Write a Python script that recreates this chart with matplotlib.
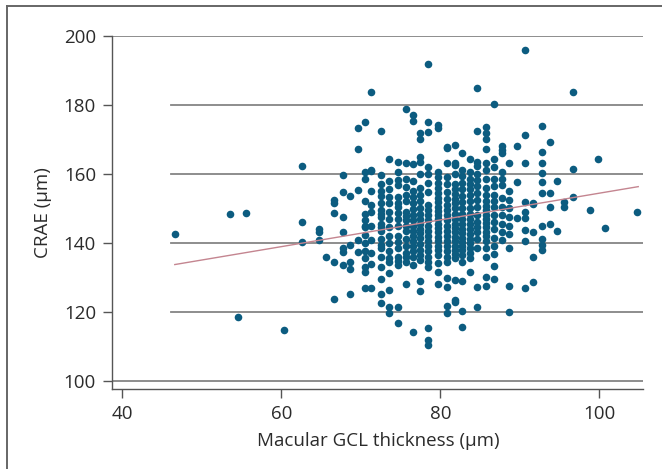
import matplotlib.pyplot as plt
import numpy as np

# macular GCL thickness (x, um) and the CRAE values (um) read at each x column
gcl_cols = [46.6, 53.6, 55.5, 54.6, 60.4, 62.6, 64.7, 65.6, 66.6, 67.7,
            68.6, 69.6, 70.5, 71.3, 72.5, 73.6, 74.7, 75.7, 76.6, 77.5,
            78.5, 79.7, 80.8, 81.8, 82.7, 83.7, 84.6, 85.7, 86.7, 87.7,
            88.7, 89.7, 90.7, 91.7, 92.8, 93.8, 94.7, 95.6, 96.7, 98.8,
            99.9, 100.7, 104.8]
crae_cols = [
    [142.5],
    [148.4],
    [148.6],
    [118.5],
    [114.8],
    [162.3, 146.0, 140.2],
    [140.8, 143.1, 143.9],
    [136.0],
    [152.4, 151.5, 148.6, 134.5, 123.7],
    [159.8, 154.8, 147.4, 143.2, 138.4, 137.4, 133.6],
    [153.7, 139.4, 134.5, 132.4, 125.2],
    [173.2, 167.2, 155.2, 137.4, 140.8],
    [175.1, 160.5, 158.4, 148.4, 145.0, 146.7, 144.7, 142.3, 139.9, 133.1, 131.6, 126.8,
     152.0, 137.5, 135.5],
    [183.7, 160.8, 148.9, 140.8, 126.8, 161.1, 155.0, 151.0, 145.0, 137.0, 134.0],
    [172.4, 159.7, 155.0, 153.5, 151.5, 149.5, 147.5, 145.5, 143.5, 141.0, 138.5,
     136.0, 133.0, 129.4, 125.2, 122.5, 157.0, 148.5, 144.5, 139.5],
    [164.3, 153.4, 151.5, 147.0, 144.5, 140.0, 137.5, 134.5, 131.2, 126.3, 121.5, 119.7,
     158.0, 155.5, 149.0, 142.0, 135.5],
    [163.4, 158.2, 156.8, 153.4, 150.5, 148.6, 145.0, 142.0, 138.5, 136.0, 133.5,
     121.5, 116.7, 160.5, 151.5, 146.8, 140.2, 134.8],
    [178.7, 163.1, 156.3, 152.0, 149.0, 146.5, 143.5, 141.0, 137.0, 134.5, 128.1,
     158.5, 154.0, 147.7, 144.8, 139.0, 135.8],
    [177.1, 175.3, 162.8, 155.0, 151.5, 148.0, 145.0, 142.0, 139.0, 136.0, 133.5, 114.0,
     158.0, 153.3, 149.8, 146.5, 143.5, 140.5, 137.5],
    [171.9, 170.1, 165.0, 163.5, 154.0, 150.0, 147.0, 144.0, 141.5, 138.0, 135.0,
     128.9, 126.1, 160.0, 156.0, 152.0, 148.5, 145.5, 142.8, 139.8, 136.5],
    [191.9, 175.0, 172.2, 162.1, 157.3, 154.8, 151.0, 148.0, 145.0, 142.0, 139.0,
     136.0, 133.0, 115.2, 111.8, 110.4, 160.0, 149.5, 146.5, 143.5, 140.5, 137.5, 134.5],
    [174.2, 173.2, 160.6, 159.2, 156.0, 153.0, 150.5, 148.0, 145.5, 143.0, 140.5,
     138.0, 134.1, 131.6, 128.0, 157.5, 154.5, 151.8, 149.3, 146.8, 144.2, 141.8,
     139.2, 136.5],
    [167.9, 167.4, 163.1, 159.2, 154.8, 151.0, 148.0, 145.0, 142.0, 139.0, 136.0,
     129.7, 127.1, 121.8, 119.7, 157.0, 152.8, 149.5, 146.5, 143.5, 140.5, 137.5, 134.5],
    [168.4, 163.1, 162.6, 160.0, 157.0, 154.3, 151.5, 148.5, 145.5, 143.0, 140.5,
     138.0, 135.5, 129.2, 123.4, 122.9, 155.7, 152.8, 150.0, 147.0, 144.2, 141.8,
     139.2, 136.8],
    [166.0, 159.5, 157.5, 153.5, 150.0, 147.0, 144.0, 141.5, 139.0, 136.5, 128.9,
     120.2, 115.7, 161.0, 155.5, 151.8, 148.5, 145.5, 142.8, 140.2, 137.8, 134.5],
    [164.3, 158.5, 155.5, 152.0, 148.5, 145.5, 142.5, 140.0, 137.0, 131.6, 160.5,
     157.0, 153.8, 150.2, 147.0, 144.0, 141.2, 138.5, 135.5],
    [184.8, 172.4, 163.5, 162.3, 160.0, 156.5, 150.5, 146.0, 143.0, 127.1, 121.3,
     158.2, 154.5, 152.5, 148.2, 144.5, 141.0, 138.5],
    [173.5, 171.8, 170.1, 167.1, 163.1, 158.5, 156.0, 152.0, 149.5, 147.0, 144.5,
     142.0, 140.5, 130.2, 127.5, 161.0, 154.0, 150.8, 148.2, 145.8, 143.2, 138.5, 136.0],
    [180.2, 164.3, 162.1, 156.5, 154.0, 150.5, 146.0, 136.7, 133.3, 129.4, 158.5,
     152.2, 148.0, 144.0, 141.5, 139.0],
    [168.2, 166.9, 166.0, 158.5, 156.8, 153.0, 148.0, 140.8, 160.5, 150.5, 145.5, 143.0],
    [163.1, 150.0, 145.0, 138.6, 127.5, 119.8, 155.0, 152.5, 147.5, 142.5],
    [168.1, 157.7, 147.1],
    [195.9, 171.3, 163.1, 151.9, 149.0, 147.1, 143.7, 140.6, 126.8],
    [151.3, 151.5, 143.1, 136.0, 128.7],
    [173.9, 166.4, 163.1, 160.2, 157.7, 154.5, 144.9, 141.0, 139.4, 137.9],
    [169.3, 154.5, 150.5, 145.4],
    [158.0, 143.5],
    [151.9, 150.5],
    [183.8, 161.4, 153.4],
    [149.5],
    [164.2],
    [144.2],
    [149.0],
]

# regression line end points
fit_x = [46.6, 104.9]
fit_y = [133.7, 156.3]

x_ticks = [40, 60, 80, 100]
y_ticks = [100, 120, 140, 160, 180, 200]

gcl = np.concatenate([[x] * len(ys) for x, ys in zip(gcl_cols, crae_cols)])
crae = np.concatenate(crae_cols)

plt.rcParams['font.family'] = ['Open Sans', 'DejaVu Sans']

fig = plt.figure(figsize=(6.62, 4.69), dpi=100)
ax = fig.add_axes([112 / 662, 1 - 389 / 469, 531 / 662, 353 / 469])

# horizontal grid: 100 and 200 run full width, the others start a bit in
for y in y_ticks:
    xmin = 0 if y in (100, 200) else 59 / 531
    ax.axhline(y, xmin=xmin, xmax=1, color='#858585', lw=1.3, zorder=1)

ax.scatter(gcl, crae, s=30, color='#0c5c80', linewidths=0, zorder=3)
ax.plot(fit_x, fit_y, color='#c48590', lw=1.0, zorder=4)

ax.set_xlim(38.7, 105.5)
ax.set_ylim(97.6, 200)
ax.set_xticks(x_ticks)
ax.set_yticks(y_ticks)

for side in ['top', 'right']:
    ax.spines[side].set_visible(False)
for side in ['left', 'bottom']:
    ax.spines[side].set_color('#555555')
    ax.spines[side].set_linewidth(1.0)

ax.tick_params(axis='both', direction='out', length=6.5, width=1.0, color='#555555',
               labelsize=13.5, labelcolor='#2b2b2b', pad=5)

ax.set_xlabel('Macular GCL thickness (µm)', fontsize=13.5, color='#2b2b2b')
ax.set_ylabel('CRAE (µm)', fontsize=13.5, color='#2b2b2b')
ax.xaxis.set_label_coords(0.501, -0.122)
ax.yaxis.set_label_coords(-0.113, 0.5)

# frame lines along the top and left of the figure
fig.add_artist(plt.Line2D([7 / 662, 7 / 662], [0, 1 - 6 / 469], color='#666666', lw=1.4))
fig.add_artist(plt.Line2D([7 / 662, 1], [1 - 6 / 469, 1 - 6 / 469], color='#666666', lw=1.4))

fig.savefig('out.png', dpi=100)
